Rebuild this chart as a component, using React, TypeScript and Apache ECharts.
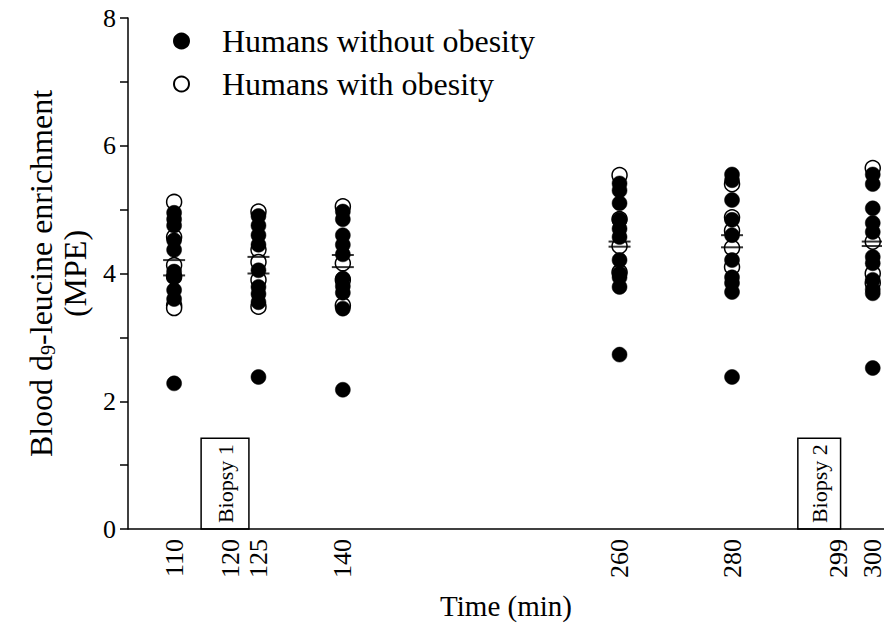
import React, { useEffect, useRef } from "react";
import * as echarts from "echarts";

const FONT = "Liberation Serif, Times New Roman, serif";

// Time points (min)
const times = [110, 125, 140, 260, 280, 300];
// Axis tick labels (min)
const xTickLabels = [110, 120, 125, 140, 260, 280, 299, 300];
const xMin = 101.8;
const xMax = 302;

// Humans without obesity (filled), MPE per time point
const leanValues = [
  [4.95, 4.85, 4.75, 4.52, 4.37, 4.03, 3.95, 3.74, 3.6, 2.28],
  [4.9, 4.75, 4.6, 4.45, 4.05, 3.79, 3.68, 3.55, 2.38],
  [4.97, 4.85, 4.6, 4.45, 4.3, 3.92, 3.8, 3.7, 3.45, 2.18],
  [5.41, 5.3, 5.1, 4.84, 4.7, 4.57, 4.21, 4.0, 3.94, 3.79, 2.73],
  [5.55, 5.46, 5.15, 4.84, 4.6, 4.21, 3.94, 3.85, 3.71, 2.38],
  [5.55, 5.4, 5.02, 4.79, 4.65, 4.26, 4.16, 3.9, 3.75, 3.69, 2.52],
];

// Humans with obesity (open), MPE per time point
const obeseValues = [
  [5.12, 4.57, 4.13, 3.95, 3.5, 3.46],
  [4.97, 4.37, 4.18, 3.9, 3.48],
  [5.05, 4.16, 3.9, 3.5],
  [5.54, 4.85, 4.43, 4.02],
  [5.4, 4.88, 4.67, 4.4, 4.1],
  [5.65, 4.5, 4.0, 3.85],
];

// Group means per time point
const leanMeans = [4.21, 4.26, 4.29, 4.5, 4.6, 4.5];
const obeseMeans = [3.97, 4.0, 4.1, 4.42, 4.41, 4.43];

// Biopsy annotation windows (min) and box height (MPE)
const biopsyLabels = ["Biopsy 1", "Biopsy 2"];
const biopsyStart = [114.8, 291.7];
const biopsyEnd = [123.3, 299.3];
const biopsyTop = 1.42;

export default function App() {
  const ref = useRef<HTMLDivElement>(null);

  useEffect(() => {
    document.body.style.margin = "0";
    if (!ref.current) return;
    const chart = echarts.init(ref.current, null, { renderer: "svg" });

    const leanData = times.flatMap((t, i) => leanValues[i].map((v) => [t, v]));
    const obeseData = times.flatMap((t, i) => obeseValues[i].map((v) => [t, v]));
    const meanData = times.flatMap((t, i) => [
      [t, leanMeans[i]],
      [t, obeseMeans[i]],
    ]);

    const option: any = {
      animation: false,
      backgroundColor: "#fff",
      grid: { left: 128, right: 2, top: 18, bottom: 98, containLabel: false },
      graphic: [
        {
          type: "rect",
          z: 100,
          silent: true,
          shape: { x: 882, y: 18, width: 6, height: 509 },
          style: { fill: "#fff" },
        },
      ],
      legend: {
        orient: "vertical",
        left: 173,
        top: 25,
        padding: 0,
        itemWidth: 15,
        itemHeight: 15,
        itemGap: 11,
        data: ["Humans without obesity", "Humans with obesity"],
        textStyle: {
          fontFamily: FONT,
          fontSize: 32,
          color: "#000",
          lineHeight: 32,
          padding: [0, 0, 0, 28],
        },
      },
      xAxis: {
        type: "value",
        min: xMin,
        max: xMax,
        breaks: [
          { start: 145, end: 255, gap: 39.2 },
          { start: 299.3, end: 299.8, gap: 5.52 },
        ],
        breakArea: { show: false },
        splitLine: { show: false },
        axisTick: { show: false },
        axisLine: { show: false },
        axisLabel: {
          customValues: xTickLabels,
          rotate: 90,
          margin: 10,
          fontFamily: FONT,
          fontSize: 26,
          color: "#000",
        },
        name: "Time (min)",
        nameLocation: "middle",
        nameGap: 62,
        nameTextStyle: { fontFamily: FONT, fontSize: 29, color: "#000" },
      },
      yAxis: {
        type: "value",
        min: 0,
        max: 8,
        interval: 1,
        splitLine: { show: false },
        axisLine: { show: true, lineStyle: { color: "#000", width: 1.5 } },
        axisTick: { show: true, length: 8, lineStyle: { color: "#000", width: 1.5 } },
        axisLabel: {
          margin: 12,
          fontFamily: FONT,
          fontSize: 26,
          color: "#000",
          formatter: (v: number) => (v % 2 === 0 ? String(v) : ""),
        },
        name: "{t|Blood d}{s|9}{t|-leucine enrichment}\n{t|(MPE)}",
        nameLocation: "middle",
        nameRotate: 90,
        nameGap: 36,
        nameTextStyle: {
          fontFamily: FONT,
          fontSize: 32,
          color: "#000",
          lineHeight: 34,
          rich: {
            t: { fontFamily: FONT, fontSize: 32, color: "#000", lineHeight: 34 },
            s: {
              fontFamily: FONT,
              fontSize: 20,
              color: "#000",
              lineHeight: 34,
              verticalAlign: "bottom",
            },
          },
        },
      },
      series: [
        {
          name: "Humans with obesity",
          type: "scatter",
          z: 2,
          symbol: "circle",
          symbolSize: 15,
          itemStyle: { color: "#fff", borderColor: "#000", borderWidth: 1.5, opacity: 1 },
          data: obeseData,
          markArea: {
            silent: true,
            itemStyle: { color: "rgba(0,0,0,0)", borderColor: "#000", borderWidth: 1.5 },
            label: {
              show: true,
              position: "inside",
              rotate: 90,
              fontFamily: FONT,
              fontSize: 22,
              color: "#000",
            },
            data: biopsyLabels.map((name, i) => [
              { name, xAxis: biopsyStart[i], yAxis: 0 },
              { xAxis: biopsyEnd[i], yAxis: biopsyTop },
            ]),
          },
          markLine: {
            silent: true,
            symbol: "none",
            label: { show: false },
            lineStyle: { color: "#000", width: 1.5, type: "solid" },
            data: [[{ coord: [xMin, 0] }, { coord: [xMax, 0] }]],
          },
        },
        {
          name: "Humans without obesity",
          type: "scatter",
          z: 3,
          symbol: "circle",
          symbolSize: 15,
          itemStyle: { color: "#000", borderColor: "#000", borderWidth: 0.5, opacity: 1 },
          data: leanData,
        },
        {
          name: "mean",
          type: "scatter",
          z: 4,
          symbol: "rect",
          symbolSize: [22, 2],
          itemStyle: { color: "#000" },
          data: meanData,
          silent: true,
        },
      ],
    };

    chart.setOption(option);
    return () => chart.dispose();
  }, []);

  return <div ref={ref} style={{ width: 886, height: 627 }} />;
}
